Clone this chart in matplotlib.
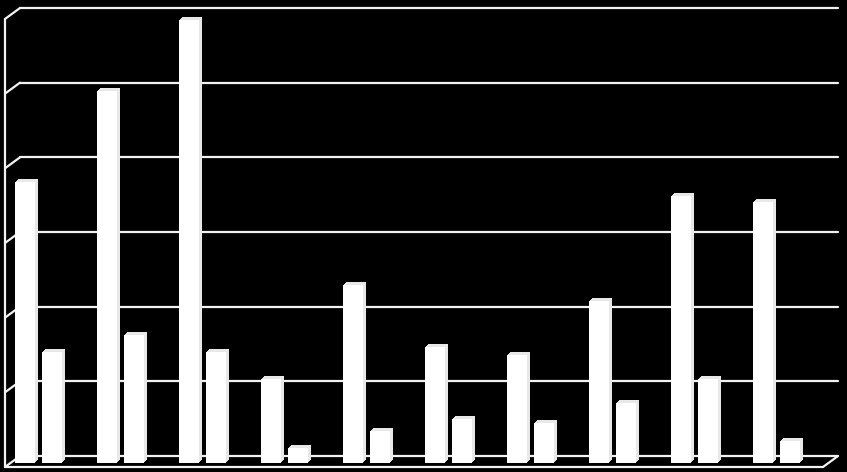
import numpy as np
import matplotlib
matplotlib.use("Agg")
import matplotlib.pyplot as plt
from matplotlib.transforms import offset_copy

# values (two series, ten groups)
series_a = [3.76, 4.98, 5.93, 1.12, 2.39, 1.55, 1.44, 2.17, 3.57, 3.49]
series_b = [1.48, 1.71, 1.48, 0.20, 0.43, 0.59, 0.53, 0.81, 1.13, 0.30]
grid_values = [0, 1, 2, 3, 4, 5, 6]

groups = np.arange(len(series_a))
bar_w = 0.244
shift = 0.1646
wall_left = -0.3415
wall_right = 9.634

fig = plt.figure(figsize=(8.47, 4.72), dpi=100, facecolor="black")
ax = fig.add_axes([0, 0, 1, 1])
ax.set_facecolor("black")
ax.set_xlim(-0.4695, 9.8598)
ax.set_ylim(-0.1205, 6.2006)
ax.axis("off")

# back wall and front edge are the bar plane pushed in / out in depth
back = offset_copy(ax.transData, fig=fig, x=9.5, y=7, units="dots")
front = offset_copy(ax.transData, fig=fig, x=-5.5, y=-4, units="dots")
line_kw = dict(color="#f2f2f2", lw=1.6, solid_capstyle="round", zorder=1)

for v in grid_values:
    ax.plot([wall_left, wall_right], [v, v], transform=back, **line_kw)
    # short diagonal on the side wall
    x0, y0 = front.transform((wall_left, v))
    x1, y1 = back.transform((wall_left, v))
    ax.plot([x0, x1], [y0, y1], transform=None, **line_kw)

# side wall front edge
ax.plot([wall_left, wall_left], [grid_values[0], grid_values[-1]], transform=front, **line_kw)
# floor front edge and right diagonal
ax.plot([wall_left, wall_right], [0, 0], transform=front, **line_kw)
x0, y0 = front.transform((wall_right, 0))
x1, y1 = back.transform((wall_right, 0))
ax.plot([x0, x1], [y0, y1], transform=None, **line_kw)

# 3d look: shifted copies behind the front faces give the top and side
for k in range(1, 4):
    depth = offset_copy(ax.transData, fig=fig, x=k, y=k, units="dots")
    ax.bar(groups - shift, series_a, bar_w, color="#e8e8e8", transform=depth, zorder=2)
    ax.bar(groups + shift, series_b, bar_w, color="#e8e8e8", transform=depth, zorder=2)

ax.bar(groups - shift, series_a, bar_w, color="white", zorder=3)
ax.bar(groups + shift, series_b, bar_w, color="white", zorder=3)

plt.savefig("out.png", dpi=100, facecolor="black")
